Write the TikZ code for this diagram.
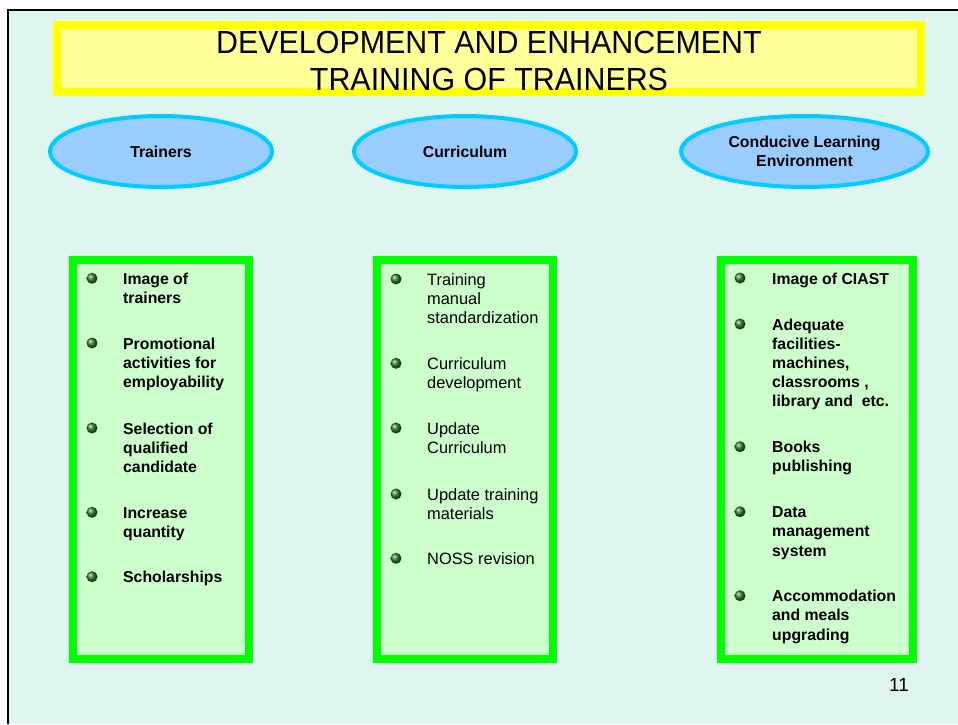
\documentclass[tikz,border=0pt]{standalone}
\usepackage{fontspec}
\setmainfont{Liberation Sans}
\newfontfamily\headfamily[FakeStretch=0.95]{Liberation Sans}
\usetikzlibrary{shapes.geometric}

\definecolor{slidebg}{HTML}{DEF5F0}
\definecolor{headfill}{HTML}{FFFF99}
\definecolor{headline}{HTML}{FFFF00}
\definecolor{topicfill}{HTML}{99CCFF}
\definecolor{topicline}{HTML}{00CCFF}
\definecolor{listfill}{HTML}{CCFFCC}
\definecolor{listline}{HTML}{00FF00}
\definecolor{dotgreen}{HTML}{2F7A1E}

% left-aligned stack of lines whose baseline is the first line
\newcommand{\stackedlines}[1]{\begin{tabular}[t]{@{}l@{}}#1\end{tabular}}

\tikzset{
  headbox/.style={draw=headline, fill=headfill, line width=8pt,
    minimum width=864pt, minimum height=67pt, inner sep=0pt},
  headtext/.style={anchor=base, inner sep=0pt,
    font=\headfamily\fontsize{32}{37}\selectfont, align=center},
  topic/.style={ellipse, draw=topicline, fill=topicfill, line width=4pt,
    minimum height=71pt, inner sep=0pt, align=center,
    font=\bfseries\fontsize{15.8}{19}\selectfont},
  listbox/.style={draw=listline, fill=listfill, line width=8pt,
    minimum height=399pt, inner sep=0pt},
  bulletdot/.style={circle, minimum size=11pt, inner sep=0pt,
    shading=ball, ball color=dotgreen},
  entrybold/.style={anchor=base west, inner sep=0pt,
    font=\bfseries\fontsize{15.8}{19.2}\selectfont},
  entryplain/.style={anchor=base west, inner sep=0pt,
    font=\fontsize{16.4}{19.2}\selectfont},
  pagenum/.style={anchor=base west, inner sep=0pt,
    font=\fontsize{19}{22}\selectfont},
}

\begin{document}
\begin{tikzpicture}[x=1pt, y=-1pt]
  \useasboundingbox (0,0) rectangle (958,724);

  % slide background and frame
  \fill[slidebg] (8,10) rectangle (958,724);
  \draw[line width=2pt] (8,724) -- (8,10) -- (958,10);

  % heading
  \node[headbox] (head) at (489,58.5) {};
  \node[headtext] (headtxt) at (489,53)
    {\begin{tabular}[t]{@{}c@{}}DEVELOPMENT AND ENHANCEMENT\\TRAINING OF TRAINERS\end{tabular}};

  % three topic ellipses
  \node[topic, minimum width=222pt] (trainers) at (161,151.5) {Trainers};
  \node[topic, minimum width=222pt] (curriculum) at (465,151.5) {Curriculum};
  \node[topic, minimum width=247pt] (environment) at (804.5,151.5)
    {Conducive Learning\\Environment};

  % list boxes
  \node[listbox, minimum width=176pt] (listA) at (161,459.5) {};
  \node[listbox, minimum width=176pt] (listB) at (465,459.5) {};
  \node[listbox, minimum width=192pt] (listC) at (817,459.5) {};

  % trainers list
  \node[bulletdot] (a1) at (92,278.3) {};
  \node[entrybold] (ta1) at (123,284.3) {\stackedlines{Image of\\trainers}};
  \node[bulletdot] (a2) at (92,343) {};
  \node[entrybold] (ta2) at (123,349) {\stackedlines{Promotional\\activities for\\employability}};
  \node[bulletdot] (a3) at (92,428) {};
  \node[entrybold] (ta3) at (123,434) {\stackedlines{Selection of\\qualified\\candidate}};
  \node[bulletdot] (a4) at (92,512.3) {};
  \node[entrybold] (ta4) at (123,518.3) {\stackedlines{Increase\\quantity}};
  \node[bulletdot] (a5) at (92,576.7) {};
  \node[entrybold] (ta5) at (123,582.7) {Scholarships};

  % curriculum list
  \node[bulletdot] (b1) at (396,279) {};
  \node[entryplain] (tb1) at (427,285) {\stackedlines{Training\\manual\\standardization}};
  \node[bulletdot] (b2) at (396,363.3) {};
  \node[entryplain] (tb2) at (427,369.3) {\stackedlines{Curriculum\\development}};
  \node[bulletdot] (b3) at (396,428) {};
  \node[entryplain] (tb3) at (427,434) {\stackedlines{Update\\Curriculum}};
  \node[bulletdot] (b4) at (396,494) {};
  \node[entryplain] (tb4) at (427,500) {\stackedlines{Update training\\materials}};
  \node[bulletdot] (b5) at (396,558.3) {};
  \node[entryplain] (tb5) at (427,564.3) {NOSS revision};

  % learning environment list
  \node[bulletdot] (c1) at (740,278) {};
  \node[entrybold] (tc1) at (772,284) {Image of CIAST};
  \node[bulletdot] (c2) at (740,324) {};
  \node[entrybold] (tc2) at (772,330) {\stackedlines{Adequate\\facilities-\\machines,\\classrooms ,\\library and\ \ etc.}};
  \node[bulletdot] (c3) at (740,446.7) {};
  \node[entrybold] (tc3) at (772,452.7) {\stackedlines{Books\\publishing}};
  \node[bulletdot] (c4) at (740,511.7) {};
  \node[entrybold] (tc4) at (772,517.7) {\stackedlines{Data\\management\\system}};
  \node[bulletdot] (c5) at (740,595.7) {};
  \node[entrybold] (tc5) at (772,601.7) {\stackedlines{Accommodation\\and meals\\upgrading}};

  % slide number
  \node[pagenum] (pageno) at (889,691) {11};
\end{tikzpicture}
\end{document}
